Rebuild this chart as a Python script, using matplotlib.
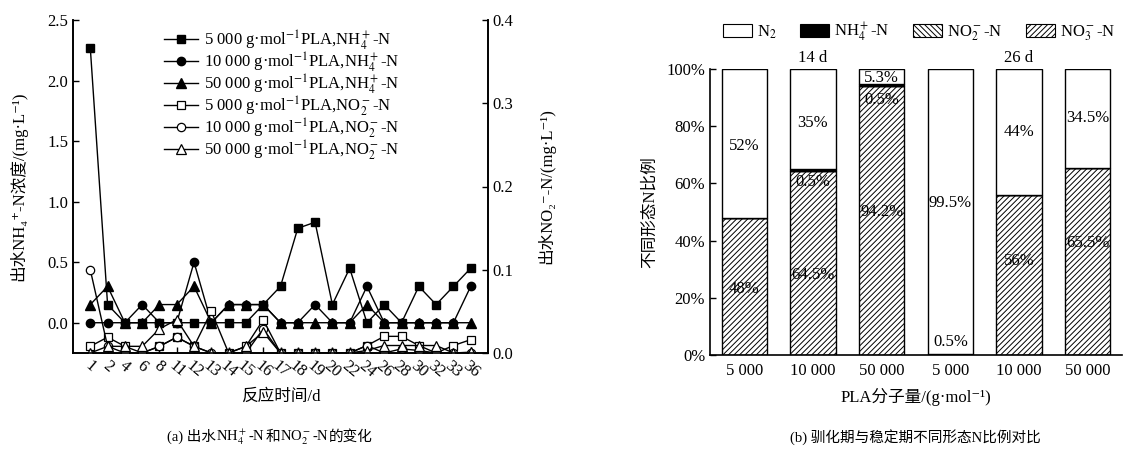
import matplotlib
matplotlib.use("Agg")
import matplotlib.pyplot as plt
from matplotlib.patches import Patch
from matplotlib.offsetbox import TextArea, HPacker, AnchoredOffsetbox
import numpy as np

FAM = ['Liberation Serif', 'DejaVu Serif', 'Noto Sans CJK SC']
plt.rcParams['font.family'] = FAM
plt.rcParams['mathtext.fontset'] = 'stix'
plt.rcParams['hatch.linewidth'] = 0.7

# ---------------- data: panel (a) ----------------
days = ['1', '2', '4', '6', '8', '11', '12', '13', '14', '15', '16', '17',
        '18', '19', '20', '22', '24', '26', '28', '30', '32', '33', '36']
nh4_5000 = [2.27, 0.15, 0, 0, 0, 0, 0, 0, 0, 0, 0.15, 0.30, 0.78, 0.83, 0.15,
            0.45, 0, 0.15, 0, 0.30, 0.15, 0.30, 0.45]
nh4_10000 = [0, 0, 0, 0.15, 0, 0, 0.50, 0, 0.15, 0.15, 0.15, 0, 0, 0.15, 0,
             0, 0.30, 0, 0, 0, 0, 0, 0.30]
nh4_50000 = [0.15, 0.30, 0, 0, 0.15, 0.15, 0.30, 0, 0.15, 0.15, 0.15, 0, 0, 0,
             0, 0, 0.15, 0, 0, 0, 0, 0, 0]
no2_5000 = [0.008, 0.019, 0.008, 0, 0.008, 0.019, 0.008, 0.05, 0, 0.008, 0.04,
            0, 0, 0, 0, 0, 0.009, 0.02, 0.02, 0.009, 0, 0.009, 0.016]
no2_10000 = [0.10, 0.008, 0, 0, 0.008, 0.019, 0.008, 0, 0, 0, 0.029, 0, 0, 0,
             0, 0, 0.009, 0, 0.005, 0.003, 0, 0, 0]
no2_50000 = [0, 0.008, 0.008, 0.008, 0.029, 0.04, 0.008, 0, 0, 0.008, 0.025,
             0, 0, 0, 0, 0, 0.003, 0.009, 0.009, 0.009, 0.009, 0, 0.001]

# ---------------- data: panel (b) ----------------
mw_labels = ['5 000', '10 000', '50 000', '5 000', '10 000', '50 000']
no3_pct = [48, 64.5, 94.2, 0, 56, 65.5]
no2_pct = [0, 0, 0, 0, 0, 0]
nh4_pct = [0, 0.5, 0.5, 0.5, 0, 0]
n2_pct = [52, 35, 5.3, 99.5, 44, 34.5]
period_labels = ['14 d', '26 d']
bar_texts = [  # (bar index, y position %, text)
    (0, 73, '52%'), (0, 23, '48%'),
    (1, 81, '35%'), (1, 60.5, '0.5%'), (1, 28, '64.5%'),
    (2, 97, '5.3%'), (2, 89, '0.5%'), (2, 50, '94.2%'),
    (3, 53, '99.5%'), (3, 4.5, '0.5%'),
    (4, 78, '44%'), (4, 33, '56%'),
    (5, 83, '34.5%'), (5, 39, '65.5%'),
]

W, H = 1128, 453
fig = plt.figure(figsize=(W / 100, H / 100), dpi=100)


def caption(pieces, xc, yc, fs):
    boxes = [TextArea(p, textprops=dict(fontsize=fs, family=FAM)) for p in pieces]
    pack = HPacker(children=boxes, align='baseline', pad=0, sep=0)
    ab = AnchoredOffsetbox(loc='center', child=pack, frameon=False, pad=0,
                           borderpad=0, bbox_to_anchor=(xc / W, 1 - yc / H),
                           bbox_transform=fig.transFigure)
    fig.add_artist(ab)


# ================= panel (a) =================
ax = fig.add_axes([73 / W, 1 - 353 / H, (488 - 73) / W, (353 - 20) / H])
ax2 = ax.twinx()
x = np.arange(1, len(days) + 1)
ms = 5.5
l1, = ax.plot(x, nh4_5000, '-', color='k', lw=1, marker='s', ms=ms, mfc='k', mec='k')
l2, = ax.plot(x, nh4_10000, '-', color='k', lw=1, marker='o', ms=ms + 0.5, mfc='k', mec='k')
l3, = ax.plot(x, nh4_50000, '-', color='k', lw=1, marker='^', ms=ms + 1, mfc='k', mec='k')
l4, = ax2.plot(x, no2_5000, '-', color='k', lw=1, marker='s', ms=ms, mfc='w', mec='k', mew=0.9)
l5, = ax2.plot(x, no2_10000, '-', color='k', lw=1, marker='o', ms=ms + 0.5, mfc='w', mec='k', mew=0.9)
l6, = ax2.plot(x, no2_50000, '-', color='k', lw=1, marker='^', ms=ms + 1, mfc='w', mec='k', mew=0.9)

ax.set_xlim(0, len(days) + 1)
ax.set_ylim(-0.25, 2.5)
ax2.set_ylim(0, 0.4)
ax.set_yticks([0, 0.5, 1.0, 1.5, 2.0, 2.5])
ax.set_yticklabels(['0.0', '0.5', '1.0', '1.5', '2.0', '2.5'])
ax2.set_yticks([0, 0.1, 0.2, 0.3, 0.4])
ax2.set_yticklabels(['0.0', '0.1', '0.2', '0.3', '0.4'])
ax.set_xticks(x)
ax.set_xticklabels(days, rotation=-40, ha='center', fontsize=12)
ax.tick_params(axis='both', direction='in', labelsize=12, length=4, width=1)
ax2.tick_params(axis='y', direction='in', labelsize=12, length=4, width=1)
for a in (ax, ax2):
    a.spines['top'].set_visible(False)
    for s in ('left', 'right', 'bottom'):
        a.spines[s].set_linewidth(1.2)
ax.set_ylabel('出水NH₄⁺-N浓度/(mg·L⁻¹)', fontsize=12, labelpad=14)
ax2.set_ylabel('出水NO₂⁻-N/(mg·L⁻¹)', fontsize=12, labelpad=17)
ax.set_xlabel('反应时间/d', fontsize=12, labelpad=6)

labels = [r'5 000 g·mol$^{-1}$PLA,NH$_4^+$-N',
          r'10 000 g·mol$^{-1}$PLA,NH$_4^+$-N',
          r'50 000 g·mol$^{-1}$PLA,NH$_4^+$-N',
          r'5 000 g·mol$^{-1}$PLA,NO$_2^-$-N',
          r'10 000 g·mol$^{-1}$PLA,NO$_2^-$-N',
          r'50 000 g·mol$^{-1}$PLA,NO$_2^-$-N']
ax2.legend([l1, l2, l3, l4, l5, l6], labels, loc='upper left',
           bbox_to_anchor=(0.2, 1.0), frameon=False, fontsize=12,
           handlelength=2.0, labelspacing=-0.12, handletextpad=0.4,
           borderaxespad=0.1)

caption(['(a) 出水', r'NH$_4^+$-N', '和', r'NO$_2^-$-N', '的变化'], 270, 437, 10.5)

# ================= panel (b) =================
bx = fig.add_axes([710 / W, 1 - 355 / H, (1122 - 710) / W, (355 - 69) / H])
xb = np.arange(len(mw_labels))
bw = 0.66
bot = np.zeros(len(xb))
bx.bar(xb, no3_pct, bw, bottom=bot, color='w', edgecolor='k', hatch='//////', lw=1)
bot += np.array(no3_pct)
bx.bar(xb, no2_pct, bw, bottom=bot, color='w', edgecolor='k', hatch='\\\\\\\\\\\\', lw=1)
bot += np.array(no2_pct)
bx.bar(xb, nh4_pct, bw, bottom=bot, color='k', edgecolor='k', lw=1)
bot += np.array(nh4_pct)
bx.bar(xb, n2_pct, bw, bottom=bot, color='w', edgecolor='k', lw=1)

bx.set_xlim(-0.5, len(xb) - 0.5)
bx.set_ylim(0, 100)
bx.set_yticks([0, 20, 40, 60, 80, 100])
bx.set_yticklabels(['0%', '20%', '40%', '60%', '80%', '100%'])
bx.set_xticks(xb)
bx.set_xticklabels(mw_labels)
bx.tick_params(axis='y', direction='in', labelsize=12, length=4, width=1)
bx.tick_params(axis='x', length=0, labelsize=12, pad=6)
bx.spines['top'].set_visible(False)
bx.spines['right'].set_visible(False)
bx.spines['left'].set_linewidth(1.2)
bx.spines['bottom'].set_linewidth(1.2)
bx.set_ylabel('不同形态N比例', fontsize=12, labelpad=6)
bx.set_xlabel('PLA分子量/(g·mol⁻¹)', fontsize=12, labelpad=6)

for i, yv, t in bar_texts:
    bx.text(xb[i], yv, t, ha='center', va='center', fontsize=12)
bx.text(xb[1], 104, period_labels[0], ha='center', va='center', fontsize=12, clip_on=False)
bx.text(xb[4], 104, period_labels[1], ha='center', va='center', fontsize=12, clip_on=False)

handles = [Patch(facecolor='w', edgecolor='k', lw=0.8),
           Patch(facecolor='k', edgecolor='k', lw=0.8),
           Patch(facecolor='w', edgecolor='k', hatch='\\\\\\\\\\\\', lw=0.8),
           Patch(facecolor='w', edgecolor='k', hatch='//////', lw=0.8)]
blabels = [r'N$_2$', r'NH$_4^+$-N', r'NO$_2^-$-N', r'NO$_3^-$-N']
fig.legend(handles, blabels, loc='center left', bbox_to_anchor=(716 / W, 1 - 32 / H),
           ncol=4, frameon=False, fontsize=12, handlelength=1.75, handleheight=0.8,
           columnspacing=1.4, handletextpad=0.3, borderaxespad=0)

fig.text(915 / W, 1 - 437 / H, '(b) 驯化期与稳定期不同形态N比例对比',
         ha='center', va='center', fontsize=10.5)

fig.savefig('out.png', dpi=100)
